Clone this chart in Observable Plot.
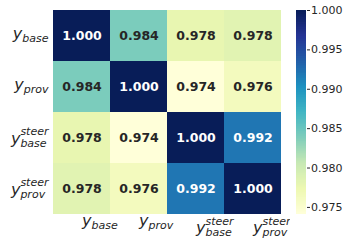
<!DOCTYPE html>
<html><head><meta charset="utf-8">
<script src="https://cdn.jsdelivr.net/npm/d3@7"></script>
<script src="https://cdn.jsdelivr.net/npm/@observablehq/plot@0.6"></script>
<style>
html,body{margin:0;padding:0;background:#fff;}
#chart{display:flex;width:349px;height:246px;overflow:hidden;}
#chart svg{display:block;}
</style></head><body><div id="chart"></div>
<script>
// Variables (tick labels): "main^sup_sub"
const variables = ["y_base", "y_prov", "y^steer_base", "y^steer_prov"];
// Correlation matrix rows
const corrRow1 = [1.000, 0.9840, 0.9778, 0.9784];
const corrRow2 = [0.9840, 1.000, 0.9741, 0.9763];
const corrRow3 = [0.9778, 0.9741, 1.000, 0.9920];
const corrRow4 = [0.9784, 0.9763, 0.9920, 1.000];
// Colorbar tick values
const colorbarTicks = [0.975, 0.980, 0.985, 0.990, 0.995, 1.000];
// YlGnBu colormap stops
const ylgnbu = ["#ffffd9","#edf8b1","#c7e9b4","#7fcdbb","#41b6c4","#1d91c0","#225ea8","#253494","#081d58"];

const rows = [corrRow1, corrRow2, corrRow3, corrRow4];
const cells = rows.flatMap((r, i) => r.map((v, j) => ({row: variables[i], col: variables[j], v})));
const vmin = d3.min(cells, d => d.v), vmax = d3.max(cells, d => d.v);
const colorOpts = {type: "linear", domain: [vmin, vmax], interpolate: d3.piecewise(d3.interpolateRgb, ylgnbu)};
const FONT = "DejaVu Sans";
const INK = "#262626";

const main = Plot.plot({
  width: 290, height: 246,
  marginLeft: 51, marginRight: 8, marginTop: 10, marginBottom: 32,
  style: {fontFamily: FONT, background: "white", color: INK},
  x: {domain: variables, padding: 0, axis: null, label: null},
  y: {domain: variables, padding: 0, axis: null, label: null},
  color: colorOpts,
  marks: [
    Plot.cell(cells, {x: "col", y: "row", fill: "v", inset: 0}),
    Plot.text(cells, {x: "col", y: "row", text: d => d.v.toFixed(3),
      fill: d => d.v > 0.99 ? "white" : INK, fontWeight: "bold", fontSize: 12.5}),
    Plot.axisX({anchor: "bottom", label: null, tickSize: 0, tickPadding: 0, textAnchor: "start", fontSize: 16, fill: INK}),
    Plot.axisY({anchor: "left", label: null, tickSize: 0, tickPadding: 3, fontSize: 16, fill: INK})
  ]
});

const nSteps = 120;
const steps = d3.range(nSteps).map(i => {
  const a = vmin + (vmax - vmin) * i / nSteps;
  const b = Math.min(vmax, vmin + (vmax - vmin) * (i + 1.6) / nSteps);
  return {a, b, m: vmin + (vmax - vmin) * (i + 0.5) / nSteps};
});

const cbar = Plot.plot({
  width: 59, height: 246,
  marginLeft: 6, marginRight: 43, marginTop: 10, marginBottom: 32,
  style: {fontFamily: FONT, background: "white", color: INK},
  x: {domain: [0, 1], axis: null},
  y: {domain: [vmin, vmax], axis: null},
  color: colorOpts,
  marks: [
    Plot.rect(steps, {x1: 0, x2: 1, y1: "a", y2: "b", fill: "m"}),
    Plot.axisY(colorbarTicks, {anchor: "right", label: null, tickSize: 3, tickPadding: 1.5,
      tickFormat: d3.format(".3f"), fontSize: 11, fill: INK, stroke: INK})
  ]
});

const chart = document.getElementById("chart");
chart.append(main, cbar);

// Render tick labels as math-style text: italic main letter with super/subscripts
const NS = "http://www.w3.org/2000/svg";
function mathLabel(textEl, isX) {
  const s = textEl.textContent;
  const m = s.match(/^(\w)(?:\^(\w+))?_(\w+)$/);
  if (!m) return;
  while (textEl.firstChild) textEl.removeChild(textEl.firstChild);
  const mk = (str, size) => {
    const t = document.createElementNS(NS, "tspan");
    t.textContent = str;
    t.setAttribute("font-size", size);
    t.setAttribute("font-style", "italic");
    textEl.appendChild(t);
    return t;
  };
  const hasSup = !!m[2];
  if (isX) textEl.setAttribute("y", hasSup ? 18.5 : 11.5);
  else textEl.setAttribute("y", hasSup ? 5.5 : 3);
  mk(m[1], 16);
  const sub = mk(m[3], 11);
  sub.setAttribute("dy", 3);
  if (hasSup) {
    const sup = mk(m[2], 11);
    sup.setAttribute("dy", -11.5);
    sup.setAttribute("dx", -sub.getComputedTextLength());
  }
}
main.querySelectorAll('g[aria-label="x-axis tick label"] text').forEach(t => mathLabel(t, true));
main.querySelectorAll('g[aria-label="y-axis tick label"] text').forEach(t => mathLabel(t, false));
</script>
</body></html>
